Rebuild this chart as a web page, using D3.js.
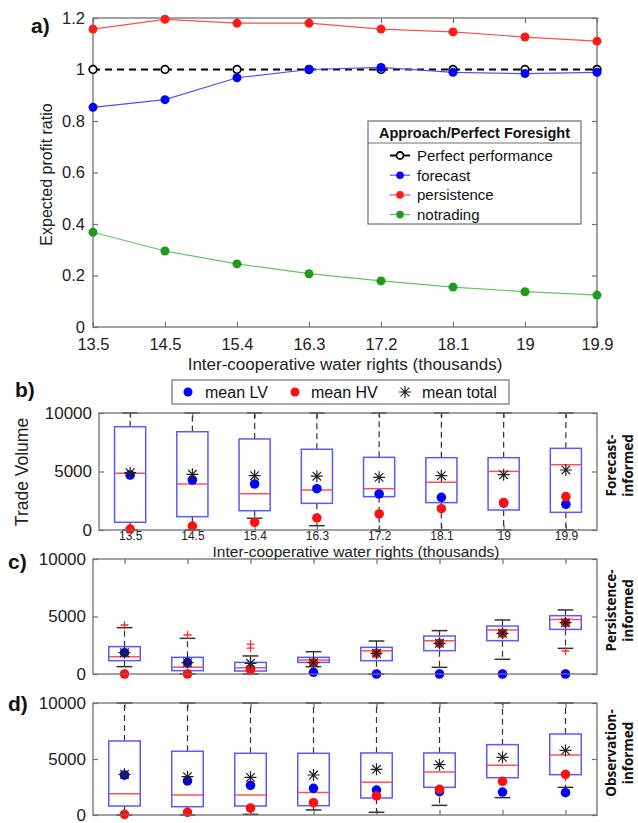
<!DOCTYPE html>
<html>
<head>
<meta charset="utf-8">
<script src="https://cdn.jsdelivr.net/npm/d3@7"></script>
<style>
  body { margin: 0; background: #fff; }
  svg { display: block; font-family: "Liberation Sans", Arial, sans-serif; }
</style>
</head>
<body>
<svg width="638" height="823"></svg>
<script>
// Categorías (miles de derechos de agua)
const rights = ["13.5", "14.5", "15.4", "16.3", "17.2", "18.1", "19", "19.9"];

// Panel a: razón de beneficio esperado
const perfect     = [1, 1, 1, 1, 1, 1, 1, 1];
const forecast    = [0.853, 0.883, 0.968, 1.0, 1.008, 0.989, 0.984, 0.989];
const persistence = [1.157, 1.195, 1.18, 1.18, 1.157, 1.146, 1.126, 1.11];
const notrading   = [0.368, 0.295, 0.245, 0.207, 0.179, 0.155, 0.137, 0.124];
const ratioTicks  = [0, 0.2, 0.4, 0.6, 0.8, 1, 1.2];

// Panel b: forecast-informed (boxplot + medias)
const fcLo  = [0, 0, 1000, 370, 0, 0, 0, 0];
const fcQ1  = [660, 1140, 1650, 2280, 2850, 2340, 1710, 1510];
const fcMed = [4850, 3930, 3100, 3420, 3530, 4080, 5010, 5580];
const fcQ3  = [8830, 8400, 7780, 6900, 6210, 6180, 6180, 6980];
const fcHi  = [10000, 10000, 10000, 10000, 10000, 10000, 10000, 10000];
const fcLV  = [4700, 4270, 3930, 3530, 3080, 2790, 2300, 2200];
const fcHV  = [80, 340, 660, 1030, 1370, 1820, 2350, 2850];
const fcTot = [4900, 4760, 4640, 4600, 4500, 4640, 4730, 5130];
const fcOut = [[], [], [], [], [], [], [], []];

// Panel c: persistence-informed
const peLo  = [640, 0, 0, 640, 0, 580, 1280, 2230];
const peQ1  = [1160, 290, 260, 1010, 1160, 2030, 2900, 3880];
const peMed = [1500, 580, 550, 1220, 2030, 2900, 3830, 4750];
const peQ3  = [2380, 1450, 1010, 1450, 2320, 3300, 4170, 5070];
const peHi  = [4030, 3100, 1570, 1940, 2870, 3770, 4700, 5570];
const peLV  = [1850, 990, 450, 150, 0, 0, 0, 0];
const peHV  = [0, 0, 350, 980, 1800, 2670, 3540, 4460];
const peTot = [1850, 990, 930, 980, 1800, 2670, 3540, 4460];
const peOut = [[4260], [3390], [2600, 2250], [], [], [], [], [2000]];

// Panel d: observation-informed
const obLo  = [0, 0, 60, 450, 240, 860, 1550, 2470];
const obQ1  = [800, 740, 800, 830, 1520, 2470, 3330, 3600];
const obMed = [1900, 1790, 1790, 2000, 2920, 3840, 4440, 5360];
const obQ3  = [6610, 5690, 5510, 5510, 5540, 5540, 6280, 7230];
const obHi  = [10000, 10000, 10000, 10000, 10000, 10000, 10000, 10000];
const obLV  = [3570, 3040, 2650, 2380, 2230, 2080, 2050, 1990];
const obHV  = [60, 240, 625, 1100, 1700, 2290, 3010, 3630];
const obTot = [3630, 3420, 3360, 3570, 4080, 4490, 5150, 5770];
const obOut = [[], [], [], [], [], [], [], []];

const volumeTicks = [0, 5000, 10000];

const svg = d3.select("svg");
const frameColor = "#707070";
const textColor = "#222";
const starPath = "M-6,0L6,0M0,-6L0,6M-4.3,-4.3L4.3,4.3M-4.3,4.3L4.3,-4.3";

// Estilo tipo MATLAB para un eje
function styleAxis(g, size) {
  g.select(".domain").remove();
  g.selectAll(".tick line").attr("stroke", frameColor).attr("stroke-width", 1.2);
  g.selectAll(".tick text").attr("fill", textColor).attr("font-size", size)
    .attr("font-family", "Liberation Sans, Arial, sans-serif");
}

// ---------------- Panel a ----------------
const aBox = { left: 93, right: 597, top: 18, bottom: 327 };
const xa = d3.scalePoint().domain(rights).range([aBox.left, aBox.right]);
const ya = d3.scaleLinear().domain([0, 1.2]).range([aBox.bottom, aBox.top]);

svg.append("g").attr("transform", `translate(${aBox.left},0)`)
  .call(d3.axisLeft(ya).tickValues(ratioTicks).tickSize(-5).tickPadding(8).tickFormat(d3.format("~g")))
  .call(g => styleAxis(g, 16.5));
svg.append("g").attr("transform", `translate(${aBox.right},0)`)
  .call(d3.axisRight(ya).tickValues(ratioTicks).tickSize(-5).tickFormat(""))
  .call(g => styleAxis(g, 16));
svg.append("g").attr("transform", `translate(0,${aBox.bottom})`)
  .call(d3.axisBottom(xa).tickSize(-5).tickPadding(11))
  .call(g => styleAxis(g, 16.5));
svg.append("g").attr("transform", `translate(0,${aBox.top})`)
  .call(d3.axisTop(xa).tickSize(-5).tickFormat(""))
  .call(g => styleAxis(g, 16));

svg.append("rect")
  .attr("x", aBox.left).attr("y", aBox.top)
  .attr("width", aBox.right - aBox.left).attr("height", aBox.bottom - aBox.top)
  .attr("fill", "none").attr("stroke", frameColor).attr("stroke-width", 1.3);

const lineA = d3.line().x((d, i) => xa(rights[i])).y(d => ya(d));

const seriesA = [
  { name: "Perfect performance", values: perfect, line: "#000", dot: "#000", width: 2, dash: "7,5", open: true },
  { name: "forecast", values: forecast, line: "#5050ff", dot: "#0000ff", width: 1.2 },
  { name: "persistence", values: persistence, line: "#ff4d4d", dot: "#ff1a1a", width: 1.2 },
  { name: "notrading", values: notrading, line: "#5cc85c", dot: "#1f9a1f", width: 1.2 }
];

seriesA.forEach(s => {
  svg.append("path").datum(s.values)
    .attr("d", lineA)
    .attr("fill", "none")
    .attr("stroke", s.line)
    .attr("stroke-width", s.width)
    .attr("stroke-dasharray", s.dash || null);
  svg.append("g").selectAll("circle")
    .data(s.values)
    .join("circle")
    .attr("cx", (d, i) => xa(rights[i]))
    .attr("cy", d => ya(d))
    .attr("r", s.open ? 3.8 : 4.5)
    .attr("fill", s.open ? "#fff" : s.dot)
    .attr("stroke", s.open ? "#000" : "none")
    .attr("stroke-width", 1.8);
});

svg.append("text").attr("x", 31).attr("y", 33)
  .attr("font-size", 21).attr("font-weight", "bold").attr("fill", "#111").text("a)");

svg.append("text")
  .attr("transform", `translate(52,${(aBox.top + aBox.bottom) / 2 + 2}) rotate(-90)`)
  .attr("text-anchor", "middle").attr("font-size", 16).attr("fill", textColor)
  .text("Expected profit ratio");

svg.append("text").attr("x", (aBox.left + aBox.right) / 2).attr("y", 370)
  .attr("text-anchor", "middle").attr("font-size", 17).attr("fill", textColor)
  .text("Inter-cooperative water rights (thousands)");

// Leyenda del panel a
const legA = svg.append("g");
legA.append("rect").attr("x", 368).attr("y", 121).attr("width", 213).attr("height", 103)
  .attr("fill", "#fff").attr("stroke", frameColor).attr("stroke-width", 1.2);
legA.append("line").attr("x1", 368).attr("x2", 581).attr("y1", 143).attr("y2", 143)
  .attr("stroke", frameColor).attr("stroke-width", 1);
legA.append("text").attr("x", 474.5).attr("y", 138).attr("text-anchor", "middle")
  .attr("font-size", 14.5).attr("font-weight", "bold").attr("fill", "#111")
  .text("Approach/Perfect Foresight");
seriesA.forEach((s, i) => {
  const y = 155.5 + i * 19.7;
  legA.append("line").attr("x1", 390).attr("x2", 410).attr("y1", y).attr("y2", y)
    .attr("stroke", s.open ? "#000" : s.line).attr("stroke-width", s.open ? 2 : 1.2);
  legA.append("circle").attr("cx", 400).attr("cy", y).attr("r", s.open ? 3.5 : 3.8)
    .attr("fill", s.open ? "#fff" : s.dot).attr("stroke", s.open ? "#000" : "none")
    .attr("stroke-width", 1.8);
  legA.append("text").attr("x", 417).attr("y", y + 5.5)
    .attr("font-size", 15).attr("fill", "#111").text(s.name);
});

// ---------------- Paneles b, c, d ----------------
const panels = [
  { tag: "b)", tagX: 15, tagY: 397, box: { left: 99, right: 597, top: 413, bottom: 530 },
    lo: fcLo, q1: fcQ1, med: fcMed, q3: fcQ3, hi: fcHi, lv: fcLV, hv: fcHV, tot: fcTot, out: fcOut,
    side: ["Forecast-", "informed"], labels: true },
  { tag: "c)", tagX: 8, tagY: 569, box: { left: 93, right: 597, top: 559, bottom: 674 },
    lo: peLo, q1: peQ1, med: peMed, q3: peQ3, hi: peHi, lv: peLV, hv: peHV, tot: peTot, out: peOut,
    side: ["Persistence-", "informed"], labels: false },
  { tag: "d)", tagX: 8, tagY: 711, box: { left: 93, right: 597, top: 703, bottom: 815 },
    lo: obLo, q1: obQ1, med: obMed, q3: obQ3, hi: obHi, lv: obLV, hv: obHV, tot: obTot, out: obOut,
    side: ["Observation-", "informed"], labels: false }
];

panels.forEach(p => {
  const b = p.box;
  const x = d3.scalePoint().domain(rights).range([b.left, b.right]).padding(0.5);
  const y = d3.scaleLinear().domain([0, 10000]).range([b.bottom, b.top]);
  const hw = x.step() * 0.25;
  const g = svg.append("g");

  g.append("g").attr("transform", `translate(${b.left},0)`)
    .call(d3.axisLeft(y).tickValues(volumeTicks).tickSize(-5).tickPadding(7).tickFormat(d3.format("d")))
    .call(a => styleAxis(a, 17));
  g.append("g").attr("transform", `translate(${b.right},0)`)
    .call(d3.axisRight(y).tickValues(volumeTicks).tickSize(-5).tickFormat(""))
    .call(a => styleAxis(a, 17));
  g.append("g").attr("transform", `translate(0,${b.top})`)
    .call(d3.axisTop(x).tickSize(-5).tickFormat(""))
    .call(a => styleAxis(a, 13));
  g.append("g").attr("transform", `translate(0,${b.bottom})`)
    .call(d3.axisBottom(x).tickSize(-5).tickPadding(1).tickFormat(p.labels ? null : ""))
    .call(a => styleAxis(a, 12));

  const items = g.append("g").selectAll("g")
    .data(rights.map((r, i) => ({ r, i })))
    .join("g")
    .attr("transform", d => `translate(${x(d.r)},0)`);

  // Bigotes (línea discontinua) y topes
  items.append("line").attr("y1", d => y(p.q3[d.i])).attr("y2", d => y(p.hi[d.i]))
    .attr("stroke", "#333").attr("stroke-width", 1.2).attr("stroke-dasharray", "6,4");
  items.append("line").attr("y1", d => y(p.q1[d.i])).attr("y2", d => y(p.lo[d.i]))
    .attr("stroke", "#333").attr("stroke-width", 1.2).attr("stroke-dasharray", "6,4");
  items.append("line").attr("x1", -hw / 2).attr("x2", hw / 2)
    .attr("y1", d => y(p.hi[d.i])).attr("y2", d => y(p.hi[d.i]))
    .attr("stroke", "#333").attr("stroke-width", 1.5);
  items.append("line").attr("x1", -hw / 2).attr("x2", hw / 2)
    .attr("y1", d => y(p.lo[d.i])).attr("y2", d => y(p.lo[d.i]))
    .attr("stroke", "#333").attr("stroke-width", 1.5);

  // Caja y mediana
  items.append("rect").attr("x", -hw).attr("width", 2 * hw)
    .attr("y", d => y(p.q3[d.i])).attr("height", d => y(p.q1[d.i]) - y(p.q3[d.i]))
    .attr("fill", "none").attr("stroke", "#5a5aff").attr("stroke-width", 1.5);
  items.append("line").attr("x1", -hw).attr("x2", hw)
    .attr("y1", d => y(p.med[d.i])).attr("y2", d => y(p.med[d.i]))
    .attr("stroke", "#ff5050").attr("stroke-width", 1.5);

  // Valores atípicos
  items.each(function (d) {
    d3.select(this).selectAll("path.out").data(p.out[d.i]).join("path")
      .attr("class", "out")
      .attr("d", v => `M-4,${y(v)}L4,${y(v)}M0,${y(v) - 4}L0,${y(v) + 4}`)
      .attr("stroke", "#ff3030").attr("stroke-width", 1.3);
  });

  // Medias
  items.append("circle").attr("cy", d => y(p.lv[d.i])).attr("r", 4.8).attr("fill", "#0000ff");
  items.append("circle").attr("cy", d => y(p.hv[d.i])).attr("r", 4.8).attr("fill", "#ff1010");
  items.append("path").attr("transform", d => `translate(0,${y(p.tot[d.i])})`)
    .attr("d", starPath).attr("stroke", "#222").attr("stroke-width", 1.2).attr("fill", "none");

  g.append("rect").attr("x", b.left).attr("y", b.top)
    .attr("width", b.right - b.left).attr("height", b.bottom - b.top)
    .attr("fill", "none").attr("stroke", frameColor).attr("stroke-width", 1.3);

  g.append("text").attr("x", p.tagX).attr("y", p.tagY)
    .attr("font-size", 21).attr("font-weight", "bold").attr("fill", "#111").text(p.tag);

  const side = g.append("text")
    .attr("transform", `translate(611,${(b.top + b.bottom) / 2 - 6}) rotate(-90)`)
    .attr("text-anchor", "middle").attr("font-size", 13.5).attr("font-weight", "bold")
    .attr("fill", "#111").attr("font-family", "Open Sans, Liberation Sans, sans-serif");
  side.append("tspan").attr("x", 0).attr("dy", "0.35em").text(p.side[0]);
  side.append("tspan").attr("x", 0).attr("dy", 17).text(p.side[1]);
});

// Etiquetas del panel b
svg.append("text")
  .attr("transform", "translate(28,472) rotate(-90)")
  .attr("text-anchor", "middle").attr("font-size", 17.5).attr("fill", textColor)
  .text("Trade Volume");
svg.append("text").attr("x", 356).attr("y", 557)
  .attr("text-anchor", "middle").attr("font-size", 15.5).attr("fill", textColor)
  .text("Inter-cooperative water rights (thousands)");

// Leyenda del panel b
const legB = svg.append("g");
legB.append("rect").attr("x", 172).attr("y", 380).attr("width", 337).attr("height", 24)
  .attr("fill", "#fff").attr("stroke", frameColor).attr("stroke-width", 1.2);
legB.append("circle").attr("cx", 188).attr("cy", 392).attr("r", 4.5).attr("fill", "#0000ff");
legB.append("text").attr("x", 205).attr("y", 398).attr("font-size", 16).attr("fill", "#111").text("mean LV");
legB.append("circle").attr("cx", 295).attr("cy", 392).attr("r", 4.5).attr("fill", "#ff1010");
legB.append("text").attr("x", 311).attr("y", 398).attr("font-size", 16).attr("fill", "#111").text("mean HV");
legB.append("path").attr("transform", "translate(405,392)").attr("d", starPath)
  .attr("stroke", "#222").attr("stroke-width", 1.2);
legB.append("text").attr("x", 422).attr("y", 398).attr("font-size", 16).attr("fill", "#111").text("mean total");
</script>
</body>
</html>
